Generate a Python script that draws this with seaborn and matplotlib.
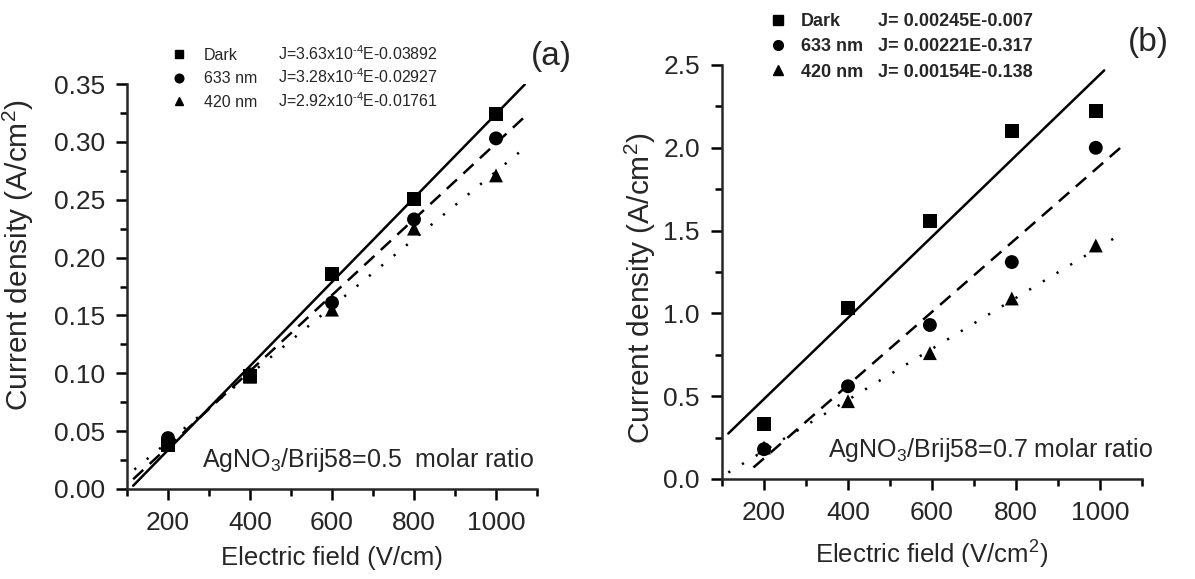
import numpy as np
import pandas as pd
import seaborn as sns
import matplotlib.pyplot as plt
from matplotlib.lines import Line2D
from matplotlib.ticker import MultipleLocator
from matplotlib import font_manager as fm

# ---- data -------------------------------------------------------------
series = ["Dark", "633 nm", "420 nm"]
markers = {"Dark": "s", "633 nm": "o", "420 nm": "^"}

field_a = [200, 400, 600, 800, 1000]
dark_a = [0.038, 0.098, 0.186, 0.251, 0.324]
nm633_a = [0.044, 0.099, 0.161, 0.233, 0.303]
nm420_a = [0.040, 0.097, 0.155, 0.225, 0.271]
slope_a = [3.63e-4, 3.28e-4, 2.92e-4]
icept_a = [-0.03892, -0.02927, -0.01761]
fit_span_a = [(115, 1070), (115, 1075), (118, 1075)]
eq_a = ["J=3.63x10$^{\\text{-4}}$E-0.03892",
        "J=3.28x10$^{\\text{-4}}$E-0.02927",
        "J=2.92x10$^{\\text{-4}}$E-0.01761"]

field_b = [200, 400, 595, 790, 990]
dark_b = [0.33, 1.03, 1.56, 2.10, 2.22]
nm633_b = [0.18, 0.56, 0.93, 1.31, 2.00]
nm420_b = [0.19, 0.47, 0.76, 1.09, 1.41]
slope_b = [0.00245, 0.00221, 0.00154]
icept_b = [-0.007, -0.317, -0.138]
fit_span_b = [(115, 1010), (175, 1050), (115, 1050)]
eq_b = ["J= 0.00245E-0.007", "J= 0.00221E-0.317", "J= 0.00154E-0.138"]

# ---- style ------------------------------------------------------------
names = {f.name for f in fm.fontManager.ttflist}
narrow = "Liberation Sans Narrow" if "Liberation Sans Narrow" in names else "Liberation Sans"

sns.set_style("ticks")
plt.rcParams["font.family"] = [narrow, "DejaVu Sans"]
plt.rcParams["mathtext.fontset"] = "custom"
plt.rcParams["mathtext.rm"] = narrow
plt.rcParams["mathtext.it"] = narrow
plt.rcParams["mathtext.bf"] = narrow + ":bold"

TICK_FS = 19
XLABEL_FS = 18.5
YLABEL_FS = 21.5
NOTE_FS = 18

W, H = 1195, 579
fig = plt.figure(figsize=(W / 100, H / 100), dpi=100)
ax_a = fig.add_axes([127 / W, 1 - 489 / H, 410 / W, 405 / H])
ax_b = fig.add_axes([722 / W, 1 - 479 / H, 420 / W, 414 / H])

linestyles = ["-", (0, (5.5, 3.5)), (0, (0.9, 5.5))]
LW = 1.8


def draw_panel(ax, field, values, slopes, icepts, spans):
    rows = []
    for name, vals in zip(series, values):
        for x, y in zip(field, vals):
            rows.append({"field": x, "J": y, "series": name})
    df = pd.DataFrame(rows)
    for k, name in enumerate(series):
        x0, x1 = spans[k]
        xf = np.array([x0, x1], dtype=float)
        yf = slopes[k] * xf + icepts[k]
        sns.lineplot(x=xf, y=yf, ax=ax, color="black", lw=LW,
                     linestyle=linestyles[k], legend=False)
    sns.scatterplot(data=df, x="field", y="J", style="series",
                    markers=markers, color="black", s=100, edgecolor="black",
                    linewidth=0, ax=ax, legend=False, zorder=5)
    for side in ["top", "right"]:
        ax.spines[side].set_visible(False)
    for side in ["left", "bottom"]:
        ax.spines[side].set_linewidth(LW)
    ax.set_xlim(100, 1100)
    ax.xaxis.set_minor_locator(MultipleLocator(100))
    ax.set_xticks([200, 400, 600, 800, 1000])
    ax.tick_params(which="major", direction="out", length=8, width=LW,
                   labelsize=TICK_FS, pad=8, color="black")
    ax.tick_params(which="minor", direction="out", length=5, width=LW,
                   color="black")
    ax.set_facecolor("none")


draw_panel(ax_a, field_a, [dark_a, nm633_a, nm420_a], slope_a, icept_a, fit_span_a)
ax_a.set_ylim(0, 0.35)
ax_a.yaxis.set_minor_locator(MultipleLocator(0.025))
ax_a.set_yticks(np.arange(0, 0.351, 0.05))
ax_a.set_yticklabels([f"{v:.2f}" for v in np.arange(0, 0.351, 0.05)])
ax_a.set_xlabel("Electric field (V/cm)", fontsize=XLABEL_FS)
ax_a.set_ylabel("Current density (A/cm$^2$)", fontsize=YLABEL_FS)
ax_a.xaxis.set_label_coords(0.5, -0.14)
ax_a.yaxis.set_label_coords(-0.222, 0.578)

draw_panel(ax_b, field_b, [dark_b, nm633_b, nm420_b], slope_b, icept_b, fit_span_b)
ax_b.set_ylim(0, 2.5)
ax_b.yaxis.set_minor_locator(MultipleLocator(0.25))
ax_b.set_yticks(np.arange(0, 2.51, 0.5))
ax_b.set_yticklabels([f"{v:.1f}" for v in np.arange(0, 2.51, 0.5)])
ax_b.set_xlabel("Electric field (V/cm$^2$)", fontsize=XLABEL_FS)
ax_b.set_ylabel("Current density (A/cm$^2$)", fontsize=YLABEL_FS)
ax_b.xaxis.set_label_coords(0.5, -0.145)
ax_b.yaxis.set_label_coords(-0.152, 0.46)

# panel tags and composition notes
fig.text(551 / W, 1 - 57 / H, "(a)", fontsize=24, family="Liberation Sans",
         ha="center", va="center")
fig.text(1148 / W, 1 - 43 / H, "(b)", fontsize=24, family="Liberation Sans",
         ha="center", va="center")
fig.text(202 / W, 1 - 467 / H, "AgNO$_3$/Brij58=0.5  molar ratio", fontsize=NOTE_FS,
         ha="left", va="baseline")
fig.text(828 / W, 1 - 457 / H, "AgNO$_3$/Brij58=0.7 molar ratio", fontsize=NOTE_FS,
         ha="left", va="baseline")


# legends: marker + series name, with the fitted equation on the same row
def add_legend(ax, left_px, top_px, fs, weight, spacing, htp, msize, eqs, eq_px):
    handles = [Line2D([], [], marker=markers[n], color="black", linestyle="none",
                      markersize=msize) for n in series]
    leg = ax.legend(handles, series, loc="upper left",
                    bbox_to_anchor=(left_px / W, 1 - top_px / H),
                    bbox_transform=fig.transFigure, frameon=False,
                    borderpad=0, borderaxespad=0, handlelength=1.0,
                    handletextpad=htp, labelspacing=spacing,
                    prop={"size": fs, "weight": weight})
    fig.canvas.draw()
    renderer = fig.canvas.get_renderer()
    for t, eq in zip(leg.get_texts(), eqs):
        bb = t.get_window_extent(renderer)
        fig.text(eq_px / W, bb.y0 / fig.bbox.height, eq, fontsize=fs,
                 fontweight=weight, ha="left", va="bottom")
    return leg


add_legend(ax_a, 171, 48, 11.5, "normal", 0.52, 1.05, 6.2, eq_a, 278)
add_legend(ax_b, 769, 13, 13, "bold", 0.46, 0.75, 7.0, eq_b, 878)

fig.savefig("out.png", dpi=100)
